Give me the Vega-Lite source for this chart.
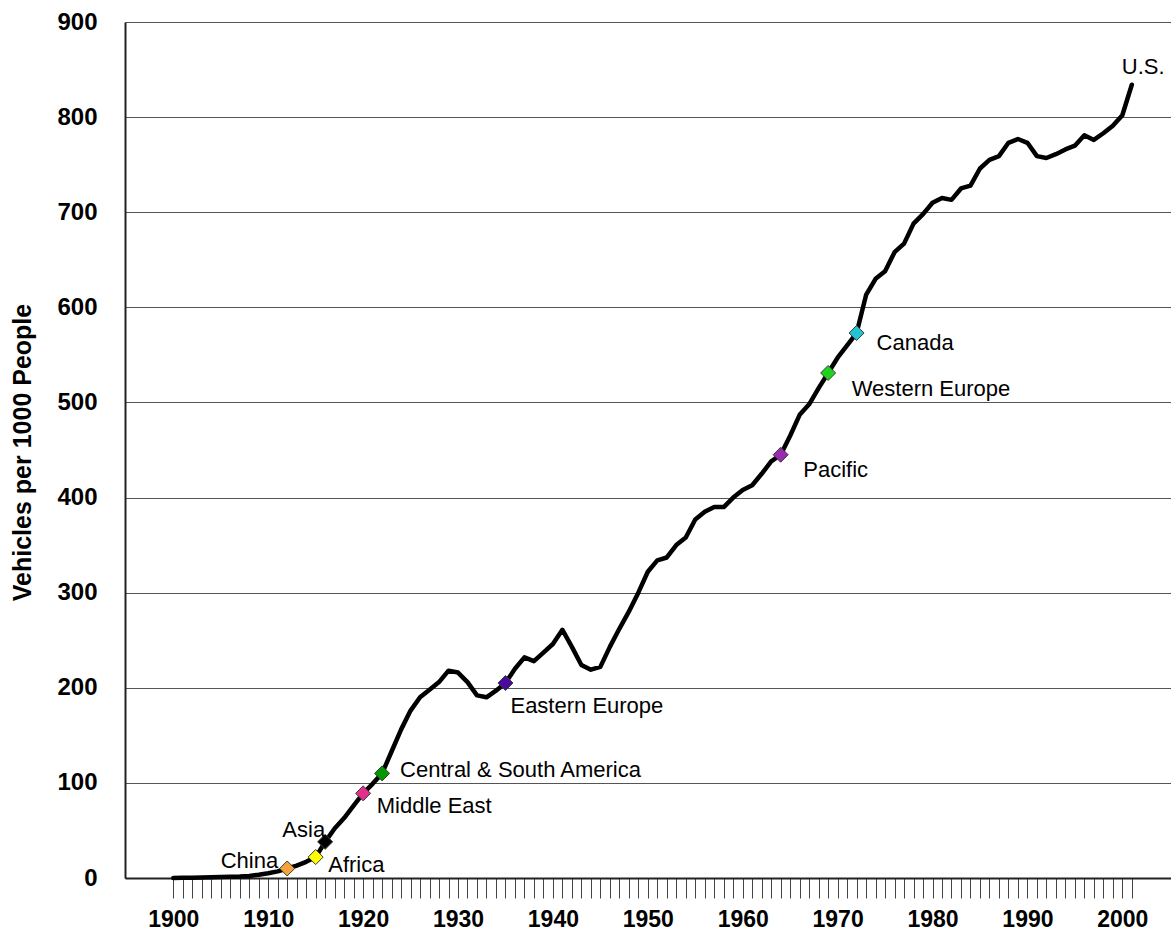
{
  "$schema": "https://vega.github.io/schema/vega-lite/v6.json",
  "autosize": {"type": "none"},
  "padding": {"left": 125, "top": 22, "right": 0, "bottom": 56},
  "width": 1046,
  "height": 856,
  "background": "white",
  "config": {
    "view": {"stroke": null},
    "font": "Liberation Sans",
    "text": {"font": "Liberation Sans", "fontSize": 22, "color": "#000000"}
  },
  "datasets": {
    "us": [
      {"year": 1900, "value": 0.1}, {"year": 1901, "value": 0.2}, {"year": 1902, "value": 0.3},
      {"year": 1903, "value": 0.4}, {"year": 1904, "value": 0.7}, {"year": 1905, "value": 1},
      {"year": 1906, "value": 1.3}, {"year": 1907, "value": 1.6}, {"year": 1908, "value": 2.2},
      {"year": 1909, "value": 3.4}, {"year": 1910, "value": 5}, {"year": 1911, "value": 7},
      {"year": 1912, "value": 10}, {"year": 1913, "value": 13}, {"year": 1914, "value": 17},
      {"year": 1915, "value": 22}, {"year": 1916, "value": 38}, {"year": 1917, "value": 52},
      {"year": 1918, "value": 63}, {"year": 1919, "value": 76}, {"year": 1920, "value": 89},
      {"year": 1921, "value": 99}, {"year": 1922, "value": 110}, {"year": 1923, "value": 133},
      {"year": 1924, "value": 156}, {"year": 1925, "value": 176}, {"year": 1926, "value": 190},
      {"year": 1927, "value": 198}, {"year": 1928, "value": 206}, {"year": 1929, "value": 218},
      {"year": 1930, "value": 216}, {"year": 1931, "value": 206}, {"year": 1932, "value": 192},
      {"year": 1933, "value": 190}, {"year": 1934, "value": 197}, {"year": 1935, "value": 205},
      {"year": 1936, "value": 220}, {"year": 1937, "value": 232}, {"year": 1938, "value": 228},
      {"year": 1939, "value": 237}, {"year": 1940, "value": 246}, {"year": 1941, "value": 261},
      {"year": 1942, "value": 243}, {"year": 1943, "value": 224}, {"year": 1944, "value": 219},
      {"year": 1945, "value": 222}, {"year": 1946, "value": 243}, {"year": 1947, "value": 262},
      {"year": 1948, "value": 280}, {"year": 1949, "value": 300}, {"year": 1950, "value": 322},
      {"year": 1951, "value": 334}, {"year": 1952, "value": 337}, {"year": 1953, "value": 350},
      {"year": 1954, "value": 358}, {"year": 1955, "value": 377}, {"year": 1956, "value": 385},
      {"year": 1957, "value": 390}, {"year": 1958, "value": 390}, {"year": 1959, "value": 400},
      {"year": 1960, "value": 408}, {"year": 1961, "value": 413}, {"year": 1962, "value": 425},
      {"year": 1963, "value": 438}, {"year": 1964, "value": 445}, {"year": 1965, "value": 465},
      {"year": 1966, "value": 487}, {"year": 1967, "value": 498}, {"year": 1968, "value": 515},
      {"year": 1969, "value": 531}, {"year": 1970, "value": 547}, {"year": 1971, "value": 560},
      {"year": 1972, "value": 573}, {"year": 1973, "value": 613}, {"year": 1974, "value": 630},
      {"year": 1975, "value": 638}, {"year": 1976, "value": 658}, {"year": 1977, "value": 667},
      {"year": 1978, "value": 688}, {"year": 1979, "value": 698}, {"year": 1980, "value": 710},
      {"year": 1981, "value": 715}, {"year": 1982, "value": 713}, {"year": 1983, "value": 725},
      {"year": 1984, "value": 728}, {"year": 1985, "value": 746}, {"year": 1986, "value": 755},
      {"year": 1987, "value": 759}, {"year": 1988, "value": 773}, {"year": 1989, "value": 777},
      {"year": 1990, "value": 773}, {"year": 1991, "value": 759}, {"year": 1992, "value": 757},
      {"year": 1993, "value": 761}, {"year": 1994, "value": 766}, {"year": 1995, "value": 770},
      {"year": 1996, "value": 781}, {"year": 1997, "value": 776}, {"year": 1998, "value": 783},
      {"year": 1999, "value": 791}, {"year": 2000, "value": 802}, {"year": 2001, "value": 834}
    ],
    "regions": [
      {"label": "China", "year": 1912, "value": 10},
      {"label": "Africa", "year": 1915, "value": 22},
      {"label": "Asia", "year": 1916, "value": 38},
      {"label": "Middle East", "year": 1920, "value": 89},
      {"label": "Central & South America", "year": 1922, "value": 110},
      {"label": "Eastern Europe", "year": 1935, "value": 205},
      {"label": "Pacific", "year": 1964, "value": 445},
      {"label": "Western Europe", "year": 1969, "value": 531},
      {"label": "Canada", "year": 1972, "value": 573},
      {"label": "U.S.", "year": 2001, "value": 834}
    ]
  },
  "encoding": {
    "x": {
      "field": "year", "type": "quantitative",
      "scale": {"domain": [1894.91, 2005.13], "nice": false, "zero": false},
      "axis": {
        "title": null,
        "values": [1900,1901,1902,1903,1904,1905,1906,1907,1908,1909,1910,1911,1912,1913,1914,1915,1916,1917,1918,1919,1920,1921,1922,1923,1924,1925,1926,1927,1928,1929,1930,1931,1932,1933,1934,1935,1936,1937,1938,1939,1940,1941,1942,1943,1944,1945,1946,1947,1948,1949,1950,1951,1952,1953,1954,1955,1956,1957,1958,1959,1960,1961,1962,1963,1964,1965,1966,1967,1968,1969,1970,1971,1972,1973,1974,1975,1976,1977,1978,1979,1980,1981,1982,1983,1984,1985,1986,1987,1988,1989,1990,1991,1992,1993,1994,1995,1996,1997,1998,1999,2000,2001],
        "format": "d",
        "labelExpr": "datum.value % 10 === 0 ? datum.label : ''",
        "labelOverlap": false,
        "labelFlush": false,
        "labelFont": "Liberation Sans",
        "labelFontWeight": "bold",
        "labelFontSize": 23,
        "labelColor": "#000000",
        "labelPadding": 10,
        "tickSize": 20,
        "tickColor": "#444444",
        "tickWidth": 1,
        "domainColor": "#222222",
        "domainWidth": 2,
        "grid": false
      }
    },
    "y": {
      "field": "value", "type": "quantitative",
      "scale": {"domain": [0, 900], "nice": false},
      "axis": {
        "title": "Vehicles per 1000 People",
        "titleFont": "Liberation Sans",
        "titleFontWeight": "bold",
        "titleFontSize": 25,
        "titleColor": "#000000",
        "titleAngle": -90,
        "titleAlign": "center",
        "titleBaseline": "middle",
        "titleX": -103,
        "titleY": 430,
        "values": [0, 100, 200, 300, 400, 500, 600, 700, 800, 900],
        "labelFont": "Liberation Sans",
        "labelFontWeight": "bold",
        "labelFontSize": 24,
        "labelColor": "#000000",
        "labelPadding": 28,
        "tickSize": 0,
        "domainColor": "#222222",
        "domainWidth": 2,
        "grid": true,
        "gridColor": "#555555",
        "gridWidth": 1.2
      }
    }
  },
  "layer": [
    {
      "data": {"name": "us"},
      "mark": {"type": "line", "color": "#000000", "strokeWidth": 4.5, "strokeJoin": "round", "strokeCap": "round"}
    },
    {
      "data": {"name": "regions"},
      "transform": [{"filter": "datum.label !== 'U.S.'"}],
      "mark": {"type": "point", "shape": "diamond", "size": 225, "filled": true, "opacity": 1, "stroke": "#3a3a3a", "strokeWidth": 1},
      "encoding": {
        "fill": {
          "field": "label", "type": "nominal", "legend": null,
          "scale": {
            "domain": ["China", "Africa", "Asia", "Middle East", "Central & South America", "Eastern Europe", "Pacific", "Western Europe", "Canada"],
            "range": ["#F5A33A", "#FFFF00", "#000000", "#E3308C", "#009A00", "#4B0A9E", "#9A2AAE", "#1ED31E", "#22C3D2"]
          }
        }
      }
    },
    {
      "data": {"name": "regions"},
      "transform": [{"filter": "datum.label === 'China'"}],
      "mark": {"type": "text", "align": "right", "baseline": "alphabetic", "dx": -9, "dy": 0},
      "encoding": {"text": {"field": "label"}}
    },
    {
      "data": {"name": "regions"},
      "transform": [{"filter": "datum.label === 'Africa'"}],
      "mark": {"type": "text", "align": "left", "baseline": "alphabetic", "dx": 12.6, "dy": 15},
      "encoding": {"text": {"field": "label"}}
    },
    {
      "data": {"name": "regions"},
      "transform": [{"filter": "datum.label === 'Asia'"}],
      "mark": {"type": "text", "align": "right", "baseline": "alphabetic", "dx": 0, "dy": -5},
      "encoding": {"text": {"field": "label"}}
    },
    {
      "data": {"name": "regions"},
      "transform": [{"filter": "datum.label === 'Middle East'"}],
      "mark": {"type": "text", "align": "left", "baseline": "alphabetic", "dx": 13.6, "dy": 19.6},
      "encoding": {"text": {"field": "label"}}
    },
    {
      "data": {"name": "regions"},
      "transform": [{"filter": "datum.label === 'Central & South America'"}],
      "mark": {"type": "text", "align": "left", "baseline": "alphabetic", "dx": 18, "dy": 3.3},
      "encoding": {"text": {"field": "label"}}
    },
    {
      "data": {"name": "regions"},
      "transform": [{"filter": "datum.label === 'Eastern Europe'"}],
      "mark": {"type": "text", "align": "left", "baseline": "alphabetic", "dx": 5, "dy": 30},
      "encoding": {"text": {"field": "label"}}
    },
    {
      "data": {"name": "regions"},
      "transform": [{"filter": "datum.label === 'Pacific'"}],
      "mark": {"type": "text", "align": "left", "baseline": "alphabetic", "dx": 22.6, "dy": 22},
      "encoding": {"text": {"field": "label"}}
    },
    {
      "data": {"name": "regions"},
      "transform": [{"filter": "datum.label === 'Western Europe'"}],
      "mark": {"type": "text", "align": "left", "baseline": "alphabetic", "dx": 23.6, "dy": 23.5},
      "encoding": {"text": {"field": "label"}}
    },
    {
      "data": {"name": "regions"},
      "transform": [{"filter": "datum.label === 'Canada'"}],
      "mark": {"type": "text", "align": "left", "baseline": "alphabetic", "dx": 20, "dy": 17},
      "encoding": {"text": {"field": "label"}}
    },
    {
      "data": {"name": "regions"},
      "transform": [{"filter": "datum.label === 'U.S.'"}],
      "mark": {"type": "text", "align": "left", "baseline": "alphabetic", "dx": -10, "dy": -11},
      "encoding": {"text": {"field": "label"}}
    }
  ]
}
